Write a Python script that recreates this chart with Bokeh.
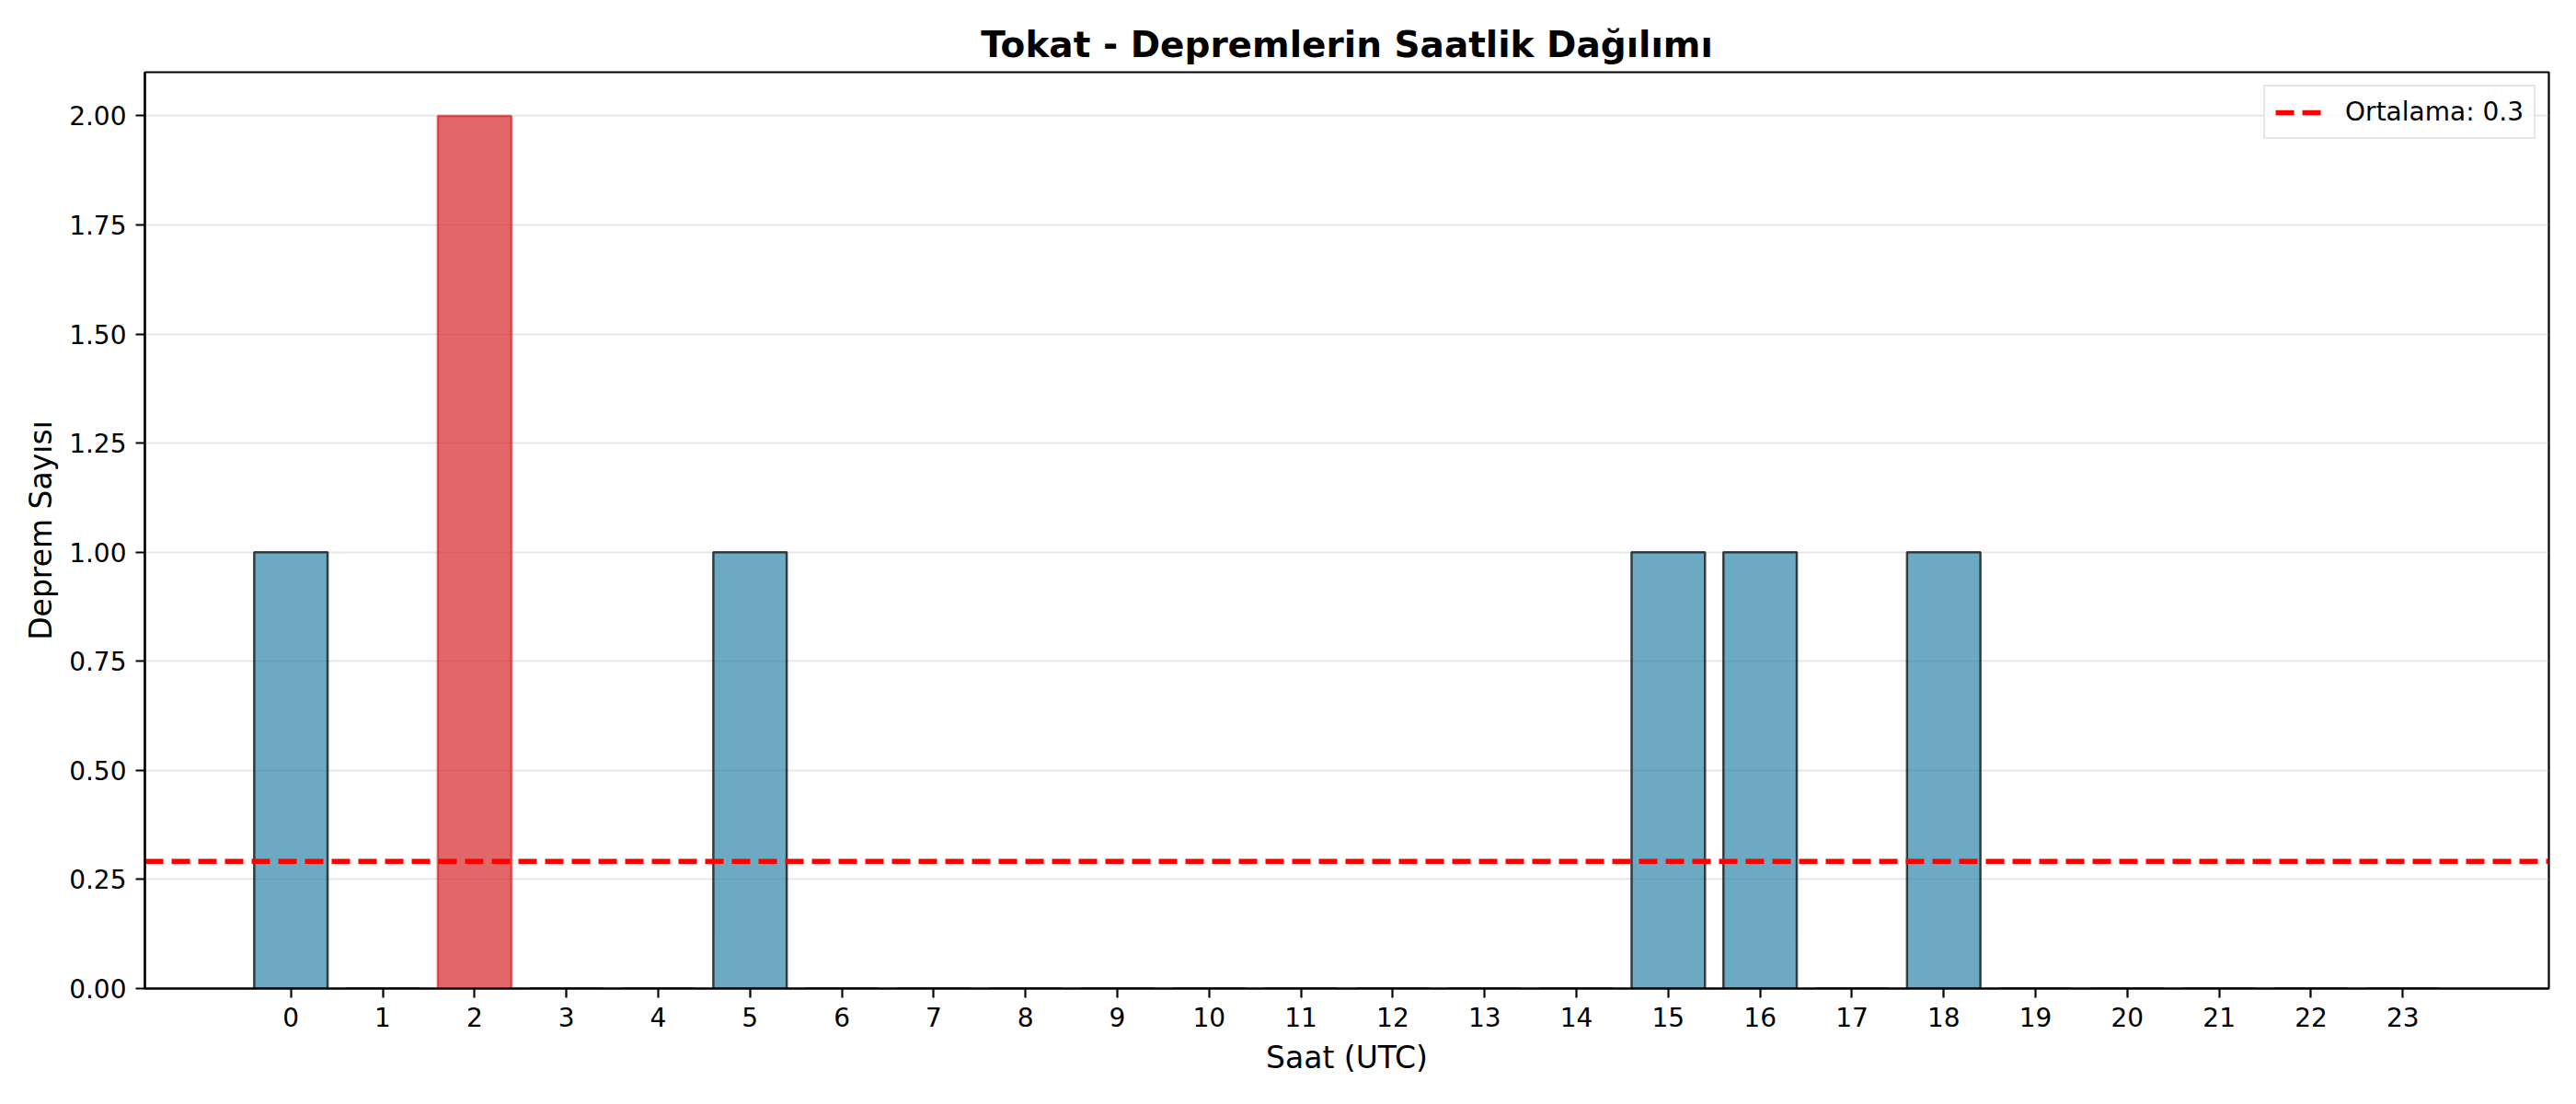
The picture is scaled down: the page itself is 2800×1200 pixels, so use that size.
from bokeh.plotting import figure
from bokeh.models import FixedTicker, NumeralTickFormatter, Range1d, ColumnDataSource
from bokeh.embed import file_html
from bokeh.resources import INLINE

# ---- data ----
hours = list(range(24))
counts = [1, 0, 2, 0, 0, 1, 0, 0, 0, 0, 0, 0, 0, 0, 0, 1, 1, 0, 1, 0, 0, 0, 0, 0]
title_text = "Tokat - Depremlerin Saatlik Dağılımı"
x_label = "Saat (UTC)"
y_label = "Deprem Sayısı"
y_ticks = [0.0, 0.25, 0.5, 0.75, 1.0, 1.25, 1.5, 1.75, 2.0]

mean_val = sum(counts) / len(counts)
max_val = max(counts)

BLUE = "#2E86AB"
RED = "#d62728"
FONT = "DejaVu Sans"

bar_w = 0.8
span = (max(hours) + bar_w / 2) - (min(hours) - bar_w / 2)
x_start = min(hours) - bar_w / 2 - 0.05 * span
x_end = max(hours) + bar_w / 2 + 0.05 * span

fill_colors = [RED if c == max_val else BLUE for c in counts]
line_colors = [RED if c == max_val else "black" for c in counts]

src = ColumnDataSource(dict(x=hours, top=counts, fill=fill_colors, edge=line_colors))

p = figure(
    width=2784, height=1184,
    x_range=Range1d(x_start, x_end),
    y_range=Range1d(0, max_val * 1.05),
    output_backend="svg", toolbar_location=None,
    min_border_left=157, min_border_right=14,
    min_border_top=78, min_border_bottom=110,
    background_fill_color="white", border_fill_color="white",
)

p.vbar(x="x", top="top", width=bar_w, source=src,
       fill_color="fill", fill_alpha=0.7,
       line_color="edge", line_alpha=0.7, line_width=2.5)

p.line(x=[x_start, x_end], y=[mean_val, mean_val],
       line_color="red", line_width=5.5, line_dash="20 9",
       legend_label=f"Ortalama: {mean_val:.1f}")

# title
p.title.text = title_text
p.title.align = "center"
p.title.text_font = FONT
p.title.text_font_size = "39px"
p.title.text_font_style = "bold"
p.title.text_color = "black"
p.title.standoff = 15

# outline
p.outline_line_color = "black"
p.outline_line_width = 2.2
p.outline_line_alpha = 1.0

# axes
for ax in (p.xaxis[0], p.yaxis[0]):
    ax.axis_line_color = "black"
    ax.axis_line_width = 2.2
    ax.major_tick_line_color = "black"
    ax.major_tick_line_width = 2.2
    ax.major_tick_out = 10
    ax.major_tick_in = 0
    ax.minor_tick_line_color = None
    ax.major_label_text_font = FONT
    ax.major_label_text_font_size = "28px"
    ax.major_label_text_color = "black"
    ax.major_label_standoff = 10
    ax.axis_label_text_font = FONT
    ax.axis_label_text_font_size = "33px"
    ax.axis_label_text_font_style = "normal"
    ax.axis_label_text_color = "black"

p.xaxis.ticker = FixedTicker(ticks=hours)
p.xaxis.axis_label = x_label
p.xaxis.axis_label_standoff = 11

p.yaxis.ticker = FixedTicker(ticks=y_ticks)
p.yaxis.formatter = NumeralTickFormatter(format="0.00")
p.yaxis.axis_label = y_label
p.yaxis.axis_label_standoff = 8

# grid
p.xgrid.grid_line_color = None
p.ygrid.grid_line_color = "#b0b0b0"
p.ygrid.grid_line_alpha = 0.3
p.ygrid.grid_line_width = 2.2

# legend
lg = p.legend[0]
lg.location = "top_right"
lg.margin = 14
lg.padding = 11
lg.spacing = 0
lg.label_text_font = FONT
lg.label_text_font_size = "28px"
lg.label_text_color = "black"
lg.label_height = 28
lg.glyph_height = 28
lg.glyph_width = 50
lg.label_standoff = 26
lg.border_line_color = "#cccccc"
lg.border_line_width = 2.5
lg.background_fill_color = "white"
lg.background_fill_alpha = 0.8

open("out.html", "w").write(file_html(p, INLINE))
